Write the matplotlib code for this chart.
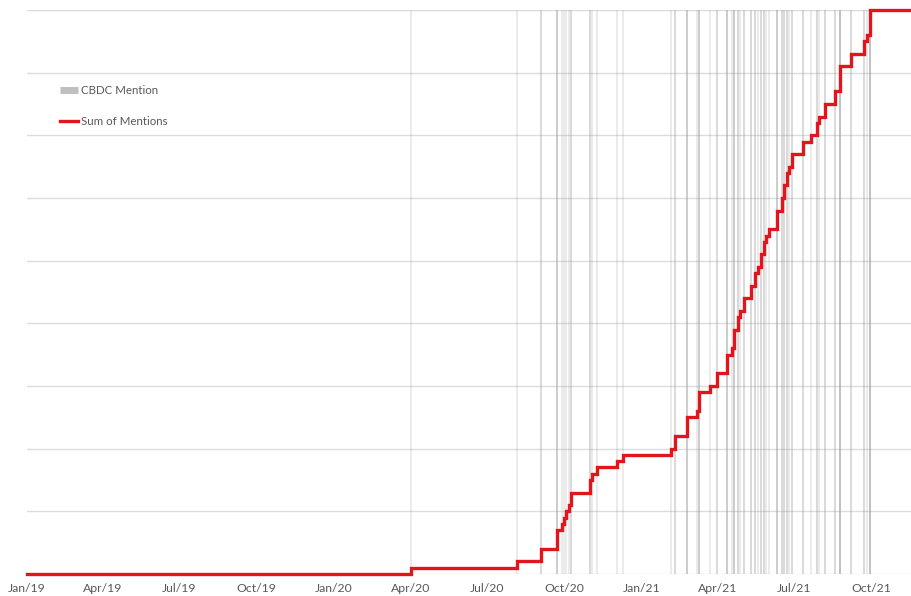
import matplotlib
matplotlib.use("Agg")
import matplotlib.pyplot as plt
from matplotlib.lines import Line2D
import numpy as np
import pandas as pd

plt.rcParams['font.family'] = ['Lato', 'DejaVu Sans']

# ---- data: dates of CBDC mentions and number of mentions on each date ----
mention_dates = [
    "2020-04-01", "2020-08-05", "2020-09-03", "2020-09-22", "2020-09-28",
    "2020-09-30", "2020-10-03", "2020-10-06", "2020-10-09", "2020-10-31",
    "2020-11-03", "2020-11-08", "2020-12-02", "2020-12-10", "2021-02-05",
    "2021-02-09", "2021-02-23", "2021-03-08", "2021-03-10", "2021-03-23",
    "2021-03-31", "2021-04-12", "2021-04-18", "2021-04-21", "2021-04-25",
    "2021-04-28", "2021-05-02", "2021-05-11", "2021-05-15", "2021-05-19",
    "2021-05-23", "2021-05-26", "2021-05-29", "2021-06-01", "2021-06-10",
    "2021-06-16", "2021-06-19", "2021-06-22", "2021-06-25", "2021-06-28",
    "2021-07-12", "2021-07-21", "2021-07-28", "2021-07-30", "2021-08-06",
    "2021-08-19", "2021-08-25", "2021-09-07", "2021-09-22", "2021-09-25",
    "2021-09-29",
]
mention_counts = [
    1, 1, 2, 3, 1,
    1, 1, 1, 2, 2,
    1, 1, 1, 1, 1,
    2, 3, 1, 3, 1,
    2, 3, 1, 3, 2,
    1, 2, 2, 2, 1,
    2, 2, 1, 1, 3,
    2, 2, 2, 1, 2,
    2, 1, 2, 1, 2,
    2, 4, 2, 2, 1,
    4,
]
tick_dates = ["2019-01-01", "2019-04-01", "2019-07-01", "2019-10-01",
              "2020-01-01", "2020-04-01", "2020-07-01", "2020-10-01",
              "2021-01-01", "2021-04-01", "2021-07-01", "2021-10-01"]
tick_labels = ["Jan/19", "Apr/19", "Jul/19", "Oct/19", "Jan/20", "Apr/20",
               "Jul/20", "Oct/20", "Jan/21", "Apr/21", "Jul/21", "Oct/21"]
x_start = "2019-01-01"
x_end = "2021-11-18"
y_max = 90

# ---- figure ----
W, H = 912, 596
fig = plt.figure(figsize=(W / 100, H / 100), dpi=100)
ax = fig.add_axes([27 / W, (H - 574) / H, 1 - 27 / W, (574 - 10) / H])

dates = pd.to_datetime(mention_dates)
counts = np.array(mention_counts)
cum = np.cumsum(counts)

# vertical grey lines (one per mention; overlaps get darker)
rep_dates = np.repeat(dates.values, counts)
ax.vlines(rep_dates, 0, y_max, colors=(0.6, 0.6, 0.6), alpha=0.2,
          linewidth=1.4, zorder=1)

# cumulative red step line
xs = [pd.Timestamp(x_start)] + list(dates) + [pd.Timestamp(x_end)]
ys = [0] + list(cum) + [cum[-1]]
ax.step(xs, ys, where="post", color="#e3151c", linewidth=2.4,
        zorder=3, clip_on=False, solid_joinstyle="miter")

ax.set_xlim(pd.Timestamp(x_start), pd.Timestamp(x_end))
ax.set_ylim(0, y_max)
ax.set_yticks(np.arange(0, y_max + 1, 10))
ax.yaxis.grid(True, color="#dcdcdc", linewidth=1.0, zorder=0)
ax.set_axisbelow(True)
ax.tick_params(axis="y", left=False, labelleft=False)
ax.set_xticks(pd.to_datetime(tick_dates))
ax.set_xticklabels(tick_labels)
ax.tick_params(axis="x", bottom=False, pad=3.0, labelsize=8.8,
               labelcolor="#595959")
for s in ax.spines.values():
    s.set_visible(False)

handles = [Line2D([0], [0], color="#bfbfbf", linewidth=5, solid_capstyle="butt"),
           Line2D([0], [0], color="#e3151c", linewidth=2.4)]
leg = fig.legend(handles, ["CBDC Mention", "Sum of Mentions"],
                 loc="upper left", bbox_to_anchor=(60 / W, 1 - 85 / H),
                 frameon=False, fontsize=8.3, handlelength=1.6,
                 handletextpad=0.2, labelspacing=1.75, borderpad=0,
                 borderaxespad=0)
for t in leg.get_texts():
    t.set_color("#595959")

fig.savefig("out.png", dpi=100)
